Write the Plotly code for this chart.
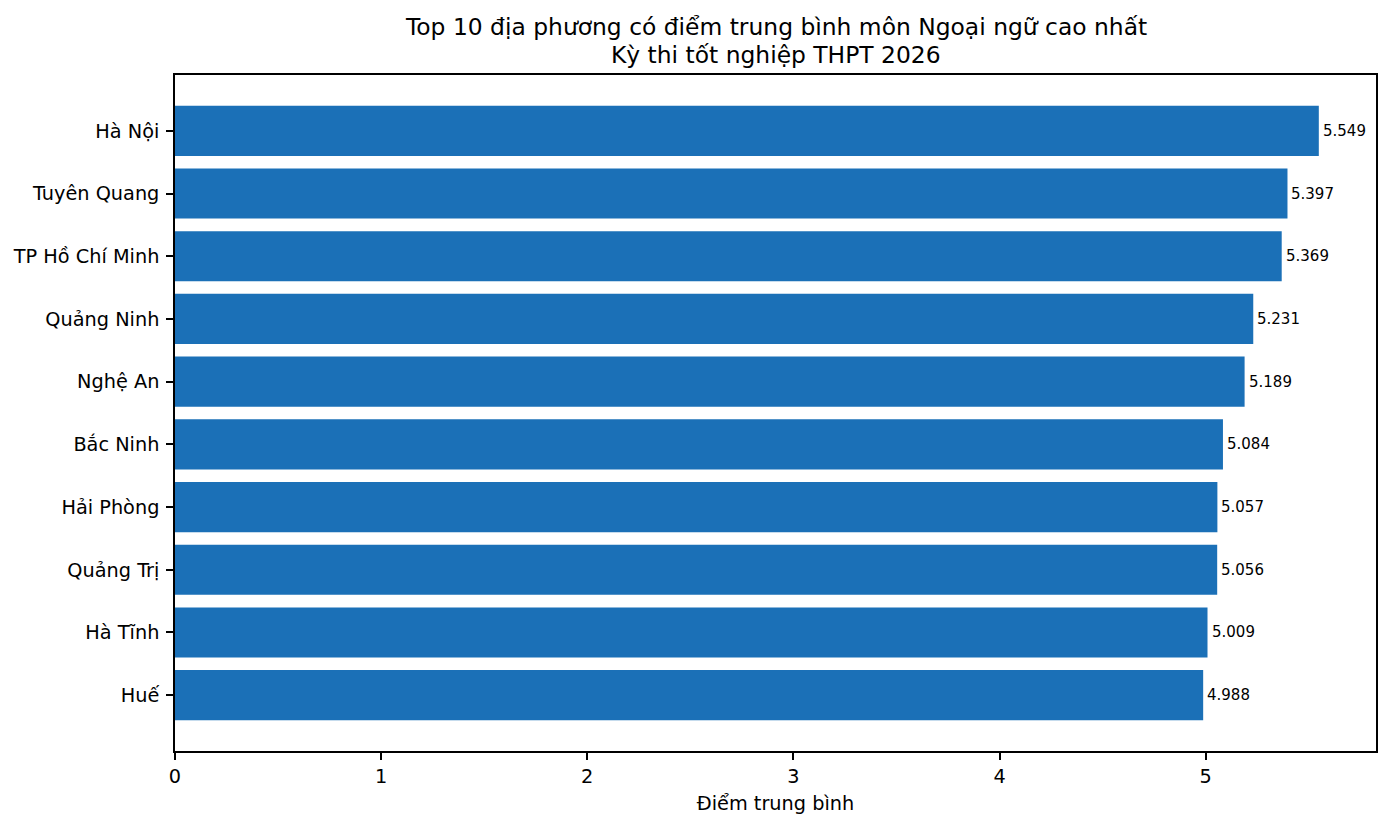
import plotly.graph_objects as go

provinces = ["Hà Nội", "Tuyên Quang", "TP Hồ Chí Minh", "Quảng Ninh", "Nghệ An",
             "Bắc Ninh", "Hải Phòng", "Quảng Trị", "Hà Tĩnh", "Huế"]
scores = [5.549, 5.397, 5.369, 5.231, 5.189, 5.084, 5.057, 5.056, 5.009, 4.988]
x_ticks = [0, 1, 2, 3, 4, 5]
title_lines = ["Top 10 địa phương có điểm trung bình môn Ngoại ngữ cao nhất",
               "Kỳ thi tốt nghiệp THPT 2026"]

FONT = "DejaVu Sans"
BAR = "#1b70b7"
TICK = 19.3

fig = go.Figure()
fig.add_trace(go.Bar(
    x=scores, y=provinces, orientation="h",
    marker=dict(color=BAR, line=dict(width=0)),
    width=0.8, hoverinfo="x+y",
))

for p, v in zip(provinces, scores):
    fig.add_annotation(
        x=v, y=p, xref="x", yref="y", text=f"{v:.3f}",
        showarrow=False, xanchor="left", yanchor="middle", xshift=2,
        font=dict(family=FONT, size=15, color="black"),
    )

plot_h = 828 - 75 - 77
for i, (line, ypx) in enumerate(zip(title_lines, [27, 55])):
    fig.add_annotation(
        x=0.5, xref="paper", y=1 + (75 - ypx) / plot_h, yref="paper",
        text=line, showarrow=False, xanchor="center", yanchor="middle",
        font=dict(family=FONT, size=23.4, color="black"),
    )

xmax = max(scores) * 1.05
fig.update_layout(
    width=1390, height=828,
    margin=dict(l=175, r=14, t=75, b=77),
    plot_bgcolor="white", paper_bgcolor="white",
    showlegend=False,
    font=dict(family=FONT, color="black"),
    xaxis=dict(
        range=[0, xmax], tickvals=x_ticks, ticktext=[str(t) for t in x_ticks],
        showgrid=False, zeroline=False,
        showline=True, linecolor="black", linewidth=1.5, mirror=True,
        ticks="outside", ticklen=7, tickwidth=1.5, tickcolor="black",
        tickfont=dict(family=FONT, size=TICK, color="black"),
        title=dict(text="Điểm trung bình", font=dict(family=FONT, size=TICK, color="black"), standoff=10),
    ),
    yaxis=dict(
        type="category", categoryorder="array", categoryarray=provinces,
        range=[9.89, -0.89],
        showgrid=False, zeroline=False,
        showline=True, linecolor="black", linewidth=1.5, mirror=True,
        ticks="outside", ticklen=7, tickwidth=1.5, tickcolor="black",
        ticklabelstandoff=3,
        tickfont=dict(family=FONT, size=TICK, color="black"),
    ),
)
fig.write_html("out.html")
